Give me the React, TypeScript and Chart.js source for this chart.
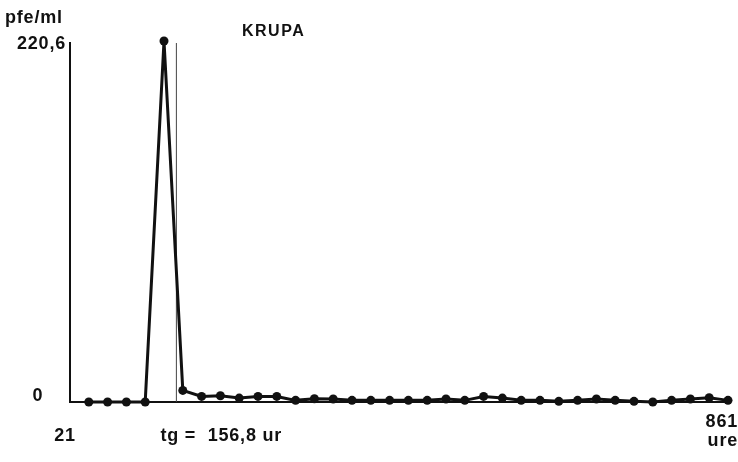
import React, { useEffect, useRef } from "react";
import { Chart, registerables } from "chart.js";

Chart.register(...registerables);

// Hours (x) and phage titre values (pfe/ml)
const hours: number[] = [45, 69, 93, 117, 141, 165, 189, 213, 237, 261, 285, 309, 333, 357, 381, 405, 429, 453, 477, 501, 525, 549, 573, 597, 621, 645, 669, 693, 717, 741, 765, 789, 813, 837, 861];
const values: number[] = [0, 0, 0, 0, 220.6, 7.1, 3.4, 3.8, 2.4, 3.4, 3.4, 1.0, 2.0, 1.8, 1.0, 1.0, 1.0, 1.0, 1.0, 1.8, 1.0, 3.4, 2.4, 1.0, 1.0, 0.4, 1.0, 1.8, 1.0, 0.4, 0, 1.0, 1.8, 2.6, 1.0];
const xMin = 21;
const xMax = 861;
const yMin = 0;
const yMax = 220.6;
const tg = 156.8;
const title = "KRUPA";
const yUnit = "pfe/ml";
const yTopLabel = "220,6";
const yZeroLabel = "0";
const xStartLabel = "21";
const xEndLabel = "861";
const xUnit = "ure";
const tgLabel = "tg =  156,8 ur";

const FONT = 'bold 18px "Liberation Sans", Arial, sans-serif';
const TITLE_FONT = 'bold 16px "Liberation Sans", Arial, sans-serif';
const INK = "#111";

const overlay = {
  id: "overlay",
  beforeDatasetsDraw(chart: any) {
    const { ctx } = chart;
    const xs = chart.scales.x;
    const ys = chart.scales.y;
    const x0 = xs.getPixelForValue(xMin);
    const x1 = xs.getPixelForValue(xMax);
    const y0 = ys.getPixelForValue(yMin);
    const y1 = ys.getPixelForValue(yMax);
    ctx.save();
    ctx.strokeStyle = INK;
    ctx.lineWidth = 2;
    ctx.beginPath();
    ctx.moveTo(x0, y1 + 1);
    ctx.lineTo(x0, y0);
    ctx.lineTo(x1, y0);
    ctx.stroke();
    // tg marker line
    const xt = xs.getPixelForValue(tg);
    ctx.strokeStyle = "#444";
    ctx.lineWidth = 1;
    ctx.beginPath();
    ctx.moveTo(xt, y1 + 2);
    ctx.lineTo(xt, y0);
    ctx.stroke();
    ctx.restore();
  },
  afterDraw(chart: any) {
    const { ctx } = chart;
    const xs = chart.scales.x;
    const ys = chart.scales.y;
    const x0 = xs.getPixelForValue(xMin);
    const x1 = xs.getPixelForValue(xMax);
    const y0 = ys.getPixelForValue(yMin);
    const y1 = ys.getPixelForValue(yMax);
    ctx.save();
    ctx.fillStyle = INK;
    ctx.textBaseline = "middle";
    (ctx as any).letterSpacing = "1.5px";
    ctx.font = TITLE_FONT;
    ctx.textAlign = "left";
    ctx.fillText(title, x0 + 172, 32);
    (ctx as any).letterSpacing = "0.8px";
    ctx.font = FONT;
    ctx.fillText(yUnit, x0 - 65, 18);
    ctx.textAlign = "right";
    ctx.fillText(yTopLabel, x0 - 4, y1 + 3);
    ctx.textAlign = "center";
    ctx.fillText(yZeroLabel, x0 - 32, y0 - 6);
    ctx.fillText(xStartLabel, x0 - 5, y0 + 34);
    ctx.textAlign = "left";
    ctx.fillText(tgLabel, xs.getPixelForValue(tg) - 16, y0 + 34);
    ctx.textAlign = "right";
    ctx.fillText(xEndLabel, x1 + 10, y0 + 20);
    ctx.fillText(xUnit, x1 + 10, y0 + 39);
    ctx.restore();
  },
};

export default function App() {
  const ref = useRef<HTMLCanvasElement | null>(null);
  useEffect(() => {
    if (!ref.current) return;
    const chart = new Chart(ref.current, {
      type: "line",
      data: {
        datasets: [
          {
            data: hours.map((h, i) => ({ x: h, y: values[i] })),
            borderColor: INK,
            borderWidth: 3,
            pointRadius: 4.5,
            pointBackgroundColor: INK,
            pointBorderColor: INK,
            pointBorderWidth: 0,
            tension: 0,
            clip: false as any,
          },
        ],
      },
      options: {
        responsive: false,
        animation: false,
        layout: { padding: { left: 70, right: 10, top: 41, bottom: 60 } },
        plugins: { legend: { display: false }, tooltip: { enabled: false } },
        scales: {
          x: { type: "linear", min: xMin, max: xMax, display: false },
          y: { type: "linear", min: yMin, max: yMax, display: false },
        },
      },
      plugins: [overlay],
    });
    return () => chart.destroy();
  }, []);
  return (
    <div style={{ position: "absolute", left: 0, top: 0, width: 738, height: 462, background: "#fff" }}>
      <canvas ref={ref} width={738} height={462} />
    </div>
  );
}
